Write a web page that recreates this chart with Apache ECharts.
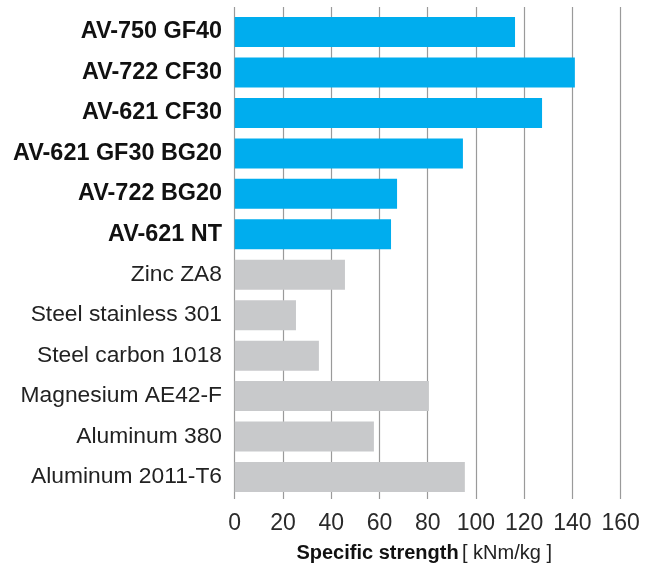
<!DOCTYPE html>
<html>
<head>
<meta charset="utf-8">
<script src="https://cdn.jsdelivr.net/npm/echarts@6/dist/echarts.min.js"></script>
<style>html,body{margin:0;padding:0;background:#fff;}#c{width:652px;height:568px;}</style>
</head>
<body>
<div id="c"></div>
<script>
const categories = ['AV-750 GF40','AV-722 CF30','AV-621 CF30','AV-621 GF30 BG20','AV-722 BG20','AV-621 NT','Zinc ZA8','Steel stainless 301','Steel carbon 1018','Magnesium AE42-F','Aluminum 380','Aluminum 2011-T6'];
const values = [116.2, 141.0, 127.4, 94.6, 67.3, 64.8, 45.7, 25.4, 34.9, 80.5, 57.7, 95.4];
const highlighted = [true, true, true, true, true, true, false, false, false, false, false, false];
const xTicks = [0, 20, 40, 60, 80, 100, 120, 140, 160];
const axisTitle = 'Specific strength';
const axisUnit = '[ kNm/kg ]';

const FONT = '"Liberation Sans", Arial, Helvetica, sans-serif';
const BLUE = '#00ADEE', GREY = '#C8C9CB';
const chart = echarts.init(document.getElementById('c'), null, {renderer: 'canvas'});
const L = 234.7, R = 652 - 620.7;
chart.setOption({
  animation: false,
  backgroundColor: '#fff',
  grid: [
    {left: L, right: R, top: 7, bottom: 65, containLabel: false},
    {left: L, right: R, top: 11.8, bottom: 70.8, containLabel: false}
  ],
  xAxis: [
    {
      gridIndex: 0, type: 'value', min: xTicks[0], max: xTicks[xTicks.length - 1], interval: 20,
      axisLine: {show: false}, axisTick: {show: false},
      splitLine: {show: true, lineStyle: {color: '#9a9a9a', width: 1.2}},
      axisLabel: {fontFamily: FONT, fontSize: 23, color: '#2a2a2a', margin: 13},
      name: '{b|' + axisTitle + '} {r|' + axisUnit + '}',
      nameLocation: 'middle', nameGap: 44,
      nameTextStyle: {
        padding: [0, 7, 0, 0],
        rich: {
          b: {fontFamily: FONT, fontSize: 20, fontWeight: 'bold', color: '#111'},
          r: {fontFamily: FONT, fontSize: 20, color: '#222'}
        }
      }
    },
    {
      gridIndex: 1, type: 'value', min: 0, max: 160, interval: 20, show: false,
      splitLine: {show: false}
    }
  ],
  yAxis: [
    {gridIndex: 0, type: 'value', show: false, splitLine: {show: false}},
    {
      gridIndex: 1, type: 'category', data: categories, inverse: true,
      axisLine: {show: false}, axisTick: {show: false}, splitLine: {show: false},
      axisLabel: {
        margin: 12.7,
        formatter: (v, i) => highlighted[i] ? '{b|' + v + '}' : '{r|' + v + '}',
        rich: {
          b: {fontFamily: FONT, fontSize: 23.4, fontWeight: 'bold', color: '#111'},
          r: {fontFamily: FONT, fontSize: 22.8, color: '#222'}
        }
      }
    }
  ],
  series: [{
    type: 'bar', xAxisIndex: 1, yAxisIndex: 1, barWidth: 30,
    data: values.map((v, i) => ({value: v, itemStyle: {color: highlighted[i] ? BLUE : GREY}}))
  }]
});
</script>
</body>
</html>
